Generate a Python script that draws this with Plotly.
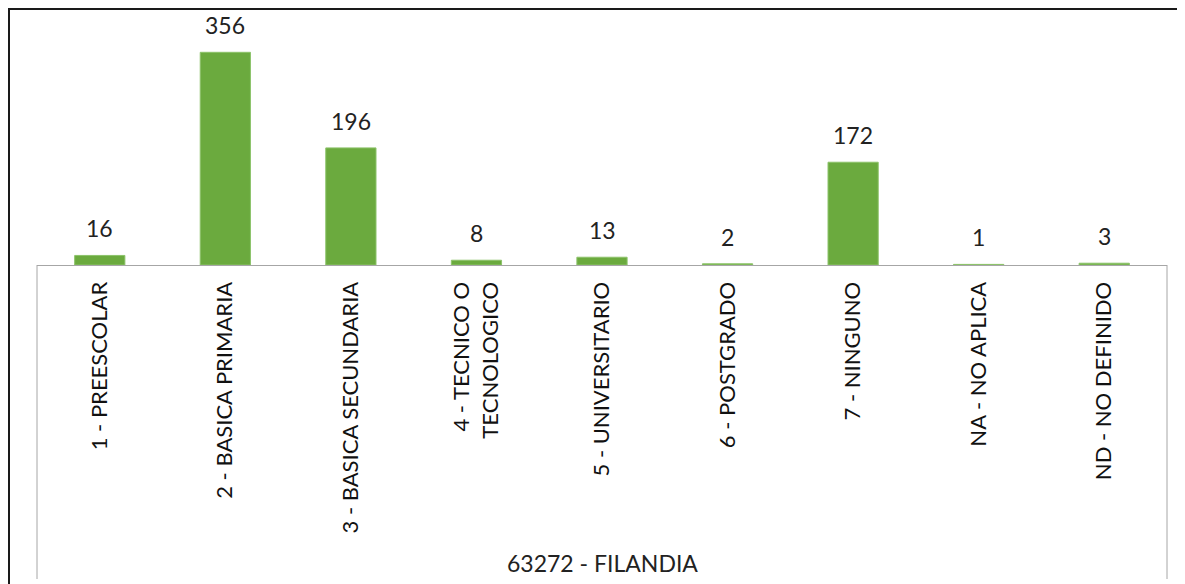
import plotly.graph_objects as go

categorias = [
    "1 - PREESCOLAR",
    "2 - BASICA PRIMARIA",
    "3 - BASICA SECUNDARIA",
    "4 - TECNICO O<br>TECNOLOGICO",
    "5 - UNIVERSITARIO",
    "6 - POSTGRADO",
    "7 - NINGUNO",
    "NA - NO APLICA",
    "ND - NO DEFINIDO",
]
valores = [16, 356, 196, 8, 13, 2, 172, 1, 3]
municipio = "63272 - FILANDIA"

W, H = 1185, 584
OFF = 8  # la pagina deja 8px de margen arriba e izquierda
x0_px, x1_px = 37 - OFF, 1167 - OFF
base_px, top_px = 265 - OFF, 20 - OFF
px_per_unit = 212.7 / 356


def py(p):
    # fila en pixeles -> y en papel
    return (H - p) / H


fig = go.Figure()
fig.add_trace(go.Bar(
    x=categorias,
    y=valores,
    marker=dict(color="#6BAA3E", line=dict(color="#8CC36A", width=1)),
    hoverinfo="x+y",
))

# etiquetas de valor sobre cada barra
for c, v in zip(categorias, valores):
    fig.add_annotation(
        x=c, y=v, text=str(v), showarrow=False,
        yanchor="bottom", yshift=11,
        font=dict(family="Lato, Carlito, sans-serif", size=23, color="#222"),
    )

fig.add_annotation(
    x=(x0_px + x1_px) / 2 / W, y=py(563 - OFF), xref="paper", yref="paper",
    text=municipio, showarrow=False, yanchor="middle",
    font=dict(family="Lato, Carlito, sans-serif", size=23, color="#222"),
)

gris = "#A6A6A6"
fig.update_layout(
    width=W, height=H,
    margin=dict(l=0, r=0, t=0, b=0),
    paper_bgcolor="white", plot_bgcolor="white",
    showlegend=False,
    bargap=0.6,
    xaxis=dict(
        domain=[x0_px / W, x1_px / W],
        showline=True, linecolor=gris, linewidth=1,
        showgrid=False, ticks="", tickangle=-90,
        ticklabelstandoff=7,
        tickfont=dict(family="Lato, Carlito, sans-serif",
                      size=22, color="#111"),
    ),
    yaxis=dict(
        domain=[py(base_px), py(top_px)],
        range=[0, (base_px - top_px) / px_per_unit],
        visible=False, showgrid=False,
    ),
    shapes=[
        # marco exterior
        dict(type="rect", xref="paper", yref="paper",
             x0=1 / W, x1=1.05, y0=-0.05, y1=py(1),
             line=dict(color="#1a1a1a", width=2)),
        # caja de categorias
        dict(type="line", xref="paper", yref="paper",
             x0=x0_px / W, x1=x0_px / W, y0=py(base_px), y1=py(579 - OFF),
             line=dict(color=gris, width=1)),
        dict(type="line", xref="paper", yref="paper",
             x0=x1_px / W, x1=x1_px / W, y0=py(base_px), y1=py(579 - OFF),
             line=dict(color=gris, width=1)),
    ],
)

fig.write_html("out.html")
